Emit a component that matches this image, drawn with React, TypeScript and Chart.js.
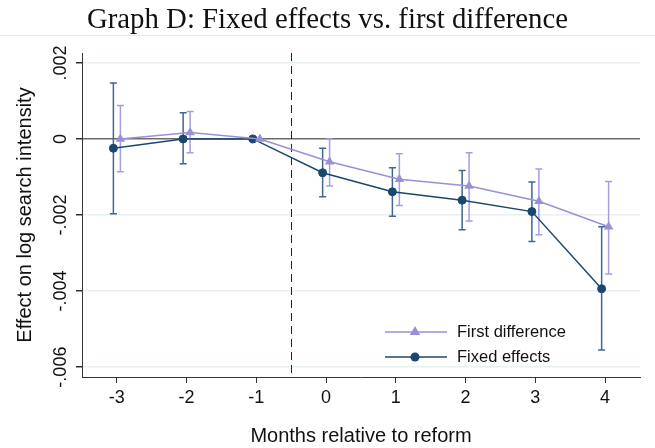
import React, { useEffect, useRef } from 'react';
import Chart from 'chart.js/auto';

const chartTitle = 'Graph D: Fixed effects vs. first difference';
const xTitle = 'Months relative to reform';
const yTitle = 'Effect on log search intensity';

const months = [-3, -2, -1, 0, 1, 2, 3, 4];

const fdLabel = 'First difference';
const fdEst = [0, 0.00017, 0, -0.0006, -0.00106, -0.00124, -0.00164, -0.00231];
const fdLo = [-0.00086, -0.00036, 0, -0.00124, -0.00175, -0.00216, -0.00252, -0.00355];
const fdHi = [0.00088, 0.00072, 0, 0, -0.00039, -0.00036, -0.00079, -0.00112];

const feLabel = 'Fixed effects';
const feEst = [-0.000245, 0, 0, -0.00089, -0.00139, -0.00161, -0.00191, -0.00394];
const feLo = [-0.00197, -0.00065, 0, -0.00152, -0.00203, -0.00239, -0.0027, -0.00555];
const feHi = [0.00147, 0.00069, 0, -0.000245, -0.000755, -0.00083, -0.00113, -0.00231];

const xTicks = [-3, -2, -1, 0, 1, 2, 3, 4];
const yTicks = [0.002, 0, -0.002, -0.004, -0.006];
const yTickLabels = ['.002', '0', '-.002', '-.004', '-.006'];

const reformLine = -0.5;

const FE_COLOR = '#1a476f';
const FE_ERR = '#3f6790';
const FD_COLOR = '#9a90d8';
const FD_ERR = '#a69ee0';

const SANS = '"Liberation Sans", Arial, Helvetica, sans-serif';
const SERIF = '"Liberation Serif", "Times New Roman", serif';

const decorPlugin = {
  id: 'decor',
  beforeDraw(chart: any) {
    const ctx = chart.ctx;
    ctx.save();
    ctx.strokeStyle = '#e8e8e8';
    ctx.lineWidth = 1;
    ctx.beginPath();
    ctx.moveTo(0, 35.5);
    ctx.lineTo(chart.width, 35.5);
    ctx.stroke();
    ctx.fillStyle = '#111';
    ctx.font = '28.8px ' + SERIF;
    ctx.textAlign = 'center';
    ctx.textBaseline = 'alphabetic';
    ctx.fillText(chartTitle, chart.width / 2, 27.5);
    ctx.restore();
  },
  beforeDatasetsDraw(chart: any) {
    const ctx = chart.ctx;
    const xs = chart.scales.x;
    const ys = chart.scales.y;
    const area = chart.chartArea;
    ctx.save();
    const rx = Math.round(xs.getPixelForValue(reformLine)) + 0.5;
    ctx.strokeStyle = '#222';
    ctx.lineWidth = 1;
    ctx.setLineDash([8, 5]);
    ctx.beginPath();
    ctx.moveTo(rx, area.top);
    ctx.lineTo(rx, area.bottom);
    ctx.stroke();
    ctx.setLineDash([]);
    chart.data.datasets.forEach((ds: any) => {
      ctx.strokeStyle = ds.errColor;
      ctx.lineWidth = 1.5;
      ds.errLo.forEach((lo: number, j: number) => {
        const hi = ds.errHi[j];
        if (lo === hi) return;
        const x = xs.getPixelForValue(months[j] + ds.xShift);
        const y1 = ys.getPixelForValue(lo);
        const y2 = ys.getPixelForValue(hi);
        ctx.beginPath();
        ctx.moveTo(x, y1);
        ctx.lineTo(x, y2);
        ctx.moveTo(x - 3.5, y1);
        ctx.lineTo(x + 3.5, y1);
        ctx.moveTo(x - 3.5, y2);
        ctx.lineTo(x + 3.5, y2);
        ctx.stroke();
      });
    });
    ctx.restore();
  },
  afterDraw(chart: any) {
    const ctx = chart.ctx;
    const area = chart.chartArea;
    const x0 = area.left + 303;
    const x1 = area.left + 365;
    const mx = area.left + 333;
    const tx = area.left + 375;
    const rows = [area.top + 279, area.top + 304];
    ctx.save();
    chart.data.datasets.forEach((ds: any, i: number) => {
      const y = rows[i];
      ctx.strokeStyle = ds.borderColor;
      ctx.lineWidth = ds.borderWidth;
      ctx.beginPath();
      ctx.moveTo(x0, y);
      ctx.lineTo(x1, y);
      ctx.stroke();
      ctx.fillStyle = ds.pointBackgroundColor;
      ctx.beginPath();
      if (ds.pointStyle === 'triangle') {
        const r = ds.pointRadius + 0.5;
        ctx.moveTo(mx, y - r);
        ctx.lineTo(mx + r * 0.866, y + r * 0.5);
        ctx.lineTo(mx - r * 0.866, y + r * 0.5);
        ctx.closePath();
      } else {
        ctx.arc(mx, y, ds.pointRadius + 0.5, 0, Math.PI * 2);
      }
      ctx.fill();
      ctx.fillStyle = '#111';
      ctx.font = '16.5px ' + SANS;
      ctx.textBaseline = 'middle';
      ctx.textAlign = 'left';
      ctx.fillText(ds.label, tx, y);
    });
    ctx.restore();
  },
};

export default function App() {
  const ref = useRef<HTMLCanvasElement | null>(null);
  useEffect(() => {
    document.body.style.margin = '0';
    const canvas = ref.current;
    if (!canvas) return;
    const fdShift = 0.05;
    const feShift = -0.05;
    const chart = new Chart(canvas, {
      type: 'scatter',
      data: {
        datasets: [
          {
            label: fdLabel,
            data: months.map((m, i) => ({ x: m + fdShift, y: fdEst[i] })),
            showLine: true,
            borderColor: FD_COLOR,
            backgroundColor: FD_COLOR,
            pointBackgroundColor: FD_COLOR,
            pointBorderColor: FD_COLOR,
            borderWidth: 1.5,
            pointStyle: 'triangle',
            pointRadius: 5.5,
            pointBorderWidth: 0,
            errLo: fdLo,
            errHi: fdHi,
            errColor: FD_ERR,
            xShift: fdShift,
          } as any,
          {
            label: feLabel,
            data: months.map((m, i) => ({ x: m + feShift, y: feEst[i] })),
            showLine: true,
            borderColor: FE_COLOR,
            backgroundColor: FE_COLOR,
            pointBackgroundColor: FE_COLOR,
            pointBorderColor: FE_COLOR,
            borderWidth: 1.5,
            pointStyle: 'circle',
            pointRadius: 4,
            pointBorderWidth: 1,
            errLo: feLo,
            errHi: feHi,
            errColor: FE_ERR,
            xShift: feShift,
          } as any,
        ],
      },
      options: {
        animation: false,
        responsive: false,
        devicePixelRatio: 1,
        layout: { padding: { left: 0, right: 15, top: 53, bottom: 0 } },
        plugins: {
          legend: { display: false },
          tooltip: { enabled: false },
          title: { display: false },
        },
        scales: {
          x: {
            type: 'linear',
            min: -3.5,
            max: 4.5,
            afterBuildTicks: (s: any) => {
              s.ticks = xTicks.map((v) => ({ value: v }));
            },
            afterFit: (s: any) => {
              s.height = 71;
            },
            ticks: {
              color: '#111',
              font: { family: SANS, size: 18 },
              padding: 4,
              callback: (v: any) => String(v),
            },
            grid: {
              drawOnChartArea: false,
              drawTicks: true,
              tickLength: 6,
              tickColor: '#333',
              tickWidth: 1,
            },
            border: { display: true, color: '#333', width: 1 },
            title: {
              display: true,
              text: xTitle,
              color: '#111',
              font: { family: SANS, size: 20 },
              padding: { top: 0, bottom: 0 },
            },
          },
          y: {
            type: 'linear',
            min: -0.00626,
            max: 0.00226,
            afterBuildTicks: (s: any) => {
              s.ticks = yTicks.map((v) => ({ value: v }));
            },
            afterFit: (s: any) => {
              s.width = 82;
            },
            ticks: {
              color: '#111',
              font: { family: SANS, size: 18 },
              minRotation: 90,
              maxRotation: 90,
              crossAlign: 'center',
              padding: -6,
              callback: (v: any) => {
                const idx = yTicks.findIndex((t) => Math.abs(t - v) < 1e-9);
                return idx >= 0 ? yTickLabels[idx] : '';
              },
            },
            grid: {
              drawOnChartArea: true,
              drawTicks: true,
              tickLength: 6,
              tickColor: '#333',
              color: (c: any) => (c.tick && Math.abs(c.tick.value) < 1e-12 ? '#6b6b6b' : '#e8f0f2'),
              lineWidth: 1.5,
            },
            border: { display: true, color: '#333', width: 1 },
            title: {
              display: true,
              text: yTitle,
              color: '#111',
              font: { family: SANS, size: 20 },
              padding: { top: 13, bottom: 0 },
            },
          },
        },
      },
      plugins: [decorPlugin],
    } as any);
    return () => chart.destroy();
  }, []);
  return (
    <div style={{ width: 655, height: 448, background: '#fff' }}>
      <canvas ref={ref} width={655} height={448} style={{ display: 'block' }} />
    </div>
  );
}
